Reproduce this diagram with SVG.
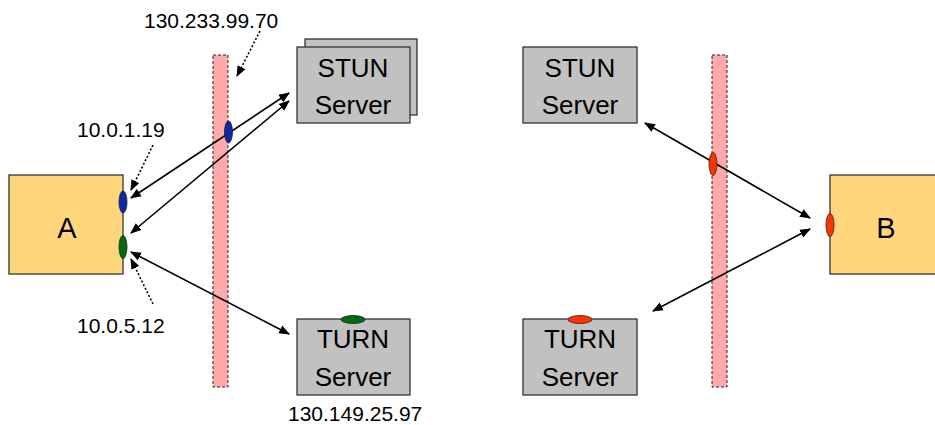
<svg xmlns="http://www.w3.org/2000/svg" width="935" height="425" viewBox="0 0 935 425">
<style>
text{font-family:"Liberation Sans",Arial,sans-serif;fill:#000}
.lbl{font-size:26px;text-anchor:middle}
.big{font-size:29px;text-anchor:middle}
.ip{font-size:21px}
.srv{fill:#C0C1C0;stroke:#333;stroke-width:1.3}
.host{fill:#FFD67C;stroke:#333;stroke-width:1.3}
.fw{fill:#FFAAAA;stroke:#222;stroke-width:1;stroke-dasharray:3,2}
.con{stroke:#000;stroke-width:1.6;fill:none;marker-start:url(#ah);marker-end:url(#ah)}
.dot{stroke:#000;stroke-width:1.6;fill:none;stroke-dasharray:2,2;marker-end:url(#ah)}
.port{stroke:#222;stroke-width:0.8}
</style>
<defs>
<marker id="ah" viewBox="0 0 10 10" refX="9" refY="5" markerWidth="11" markerHeight="11" markerUnits="userSpaceOnUse" orient="auto-start-reverse">
<path d="M0,1 L10,5 L0,9 z" fill="#000"/>
</marker>
</defs>

<g id="firewall-left"><rect class="fw" x="213" y="55" width="15" height="332"/></g>
<g id="firewall-right"><rect class="fw" x="712" y="55" width="15" height="332"/></g>

<g id="hostA">
<rect class="host" x="9" y="175" width="114" height="99"/>
<text class="big" x="67" y="238">A</text>
</g>
<g id="hostB">
<rect class="host" x="830" y="175" width="110" height="99"/>
<text class="big" x="886" y="238">B</text>
</g>

<g id="stun-left">
<rect class="srv" x="305" y="39" width="112" height="76"/>
<rect class="srv" x="297" y="47" width="113" height="76"/>
<text class="lbl" x="353" y="77">STUN</text>
<text class="lbl" x="353" y="114">Server</text>
</g>
<g id="turn-left">
<rect class="srv" x="297" y="319" width="113" height="76"/>
<text class="lbl" x="353" y="348">TURN</text>
<text class="lbl" x="353" y="386">Server</text>
</g>
<g id="stun-right">
<rect class="srv" x="523" y="47" width="114" height="76"/>
<text class="lbl" x="580" y="77">STUN</text>
<text class="lbl" x="580" y="114">Server</text>
</g>
<g id="turn-right">
<rect class="srv" x="523" y="319" width="114" height="76"/>
<text class="lbl" x="580" y="348">TURN</text>
<text class="lbl" x="580" y="386">Server</text>
</g>

<g id="connectors">
<line class="con" x1="131" y1="198" x2="289" y2="93"/>
<line class="con" x1="131" y1="233" x2="289" y2="101"/>
<line class="con" x1="131" y1="252" x2="289" y2="334"/>
<line class="con" x1="645" y1="123" x2="810" y2="218"/>
<line class="con" x1="810" y1="229" x2="653" y2="311"/>
<line class="dot" x1="260" y1="31" x2="237" y2="76"/>
<line class="dot" x1="153" y1="145" x2="131" y2="190"/>
<line class="dot" x1="153" y1="304" x2="131" y2="259"/>
</g>

<g id="ports">
<ellipse class="port" cx="228.5" cy="132" rx="4" ry="11" fill="#0A2AA8"/>
<ellipse class="port" cx="123" cy="202" rx="4" ry="11" fill="#0A2AA8"/>
<ellipse class="port" cx="123" cy="247" rx="4" ry="11.5" fill="#006A10"/>
<ellipse class="port" cx="353" cy="319.5" rx="12" ry="4" fill="#006A10"/>
<ellipse class="port" cx="713" cy="164" rx="4" ry="11.5" fill="#FF3300"/>
<ellipse class="port" cx="830" cy="225" rx="4" ry="11.5" fill="#FF3300"/>
<ellipse class="port" cx="580" cy="319.5" rx="12" ry="4" fill="#FF3300"/>
</g>

<g id="labels">
<text class="ip" x="144" y="28">130.233.99.70</text>
<text class="ip" x="77" y="137">10.0.1.19</text>
<text class="ip" x="77" y="333">10.0.5.12</text>
<text class="ip" x="288" y="421">130.149.25.97</text>
</g>
</svg>
